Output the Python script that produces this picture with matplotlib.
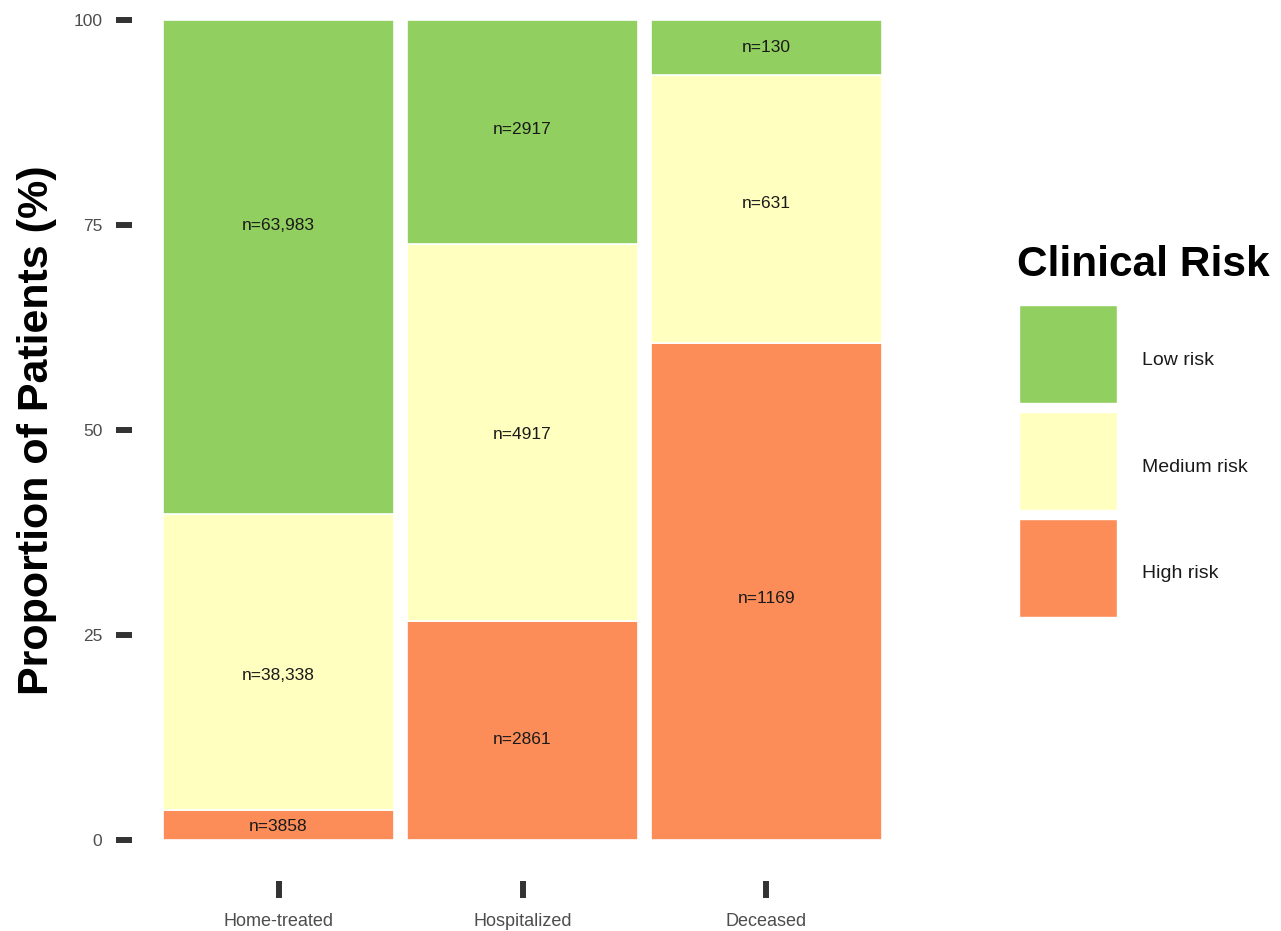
import numpy as np
import matplotlib
matplotlib.use('Agg')
from matplotlib import pyplot as plt
from matplotlib.patches import Patch, Rectangle
from matplotlib.legend_handler import HandlerPatch

plt.rcParams['font.family'] = ['Liberation Sans', 'DejaVu Sans']

# Data: patient counts per outcome and clinical risk group
outcomes = ['Home-treated', 'Hospitalized', 'Deceased']
risk_levels = ['High risk', 'Medium risk', 'Low risk']
high_risk = np.array([3858, 2861, 1169])
medium_risk = np.array([38338, 4917, 631])
low_risk = np.array([63983, 2917, 130])
risk_colors = ['#FC8D59', '#FFFFBF', '#91CF60']

# where the n= labels sit (percent)
label_y_high = [1.7, 12.2, 29.5]
label_y_medium = [20, 49.5, 77.6]
label_y_low = [75, 86.7, 96.6]

counts = [high_risk, medium_risk, low_risk]
label_ys = [label_y_high, label_y_medium, label_y_low]
totals = high_risk + medium_risk + low_risk


def fmt_n(v):
    return 'n={:,}'.format(v) if v >= 10000 else 'n={}'.format(v)


fig = plt.figure(figsize=(12.81, 9.31), dpi=100)
ax = fig.add_axes([132.1 / 1281, 1 - 840 / 931, 780.8 / 1281, 820 / 931])

x = np.arange(len(outcomes))
bottom = np.zeros(len(outcomes))
for level, cnt, ly, col in zip(risk_levels, counts, label_ys, risk_colors):
    pct = cnt / totals * 100
    ax.bar(x, pct, width=0.947, bottom=bottom, color=col, edgecolor='white',
           linewidth=1.2, label=level)
    for xi, yi, v in zip(x, ly, cnt):
        ax.text(xi, yi, fmt_n(v), ha='center', va='center',
                fontsize=12.5, color='#1A1A1A')
    bottom = bottom + pct

ax.set_xlim(-0.6, 2.6)
ax.set_ylim(0, 100)
ax.set_yticks([0, 25, 50, 75, 100])
ax.set_xticks(x)
ax.set_xticklabels(outcomes)

for s in ax.spines.values():
    s.set_visible(False)
ax.spines['bottom'].set_position(('outward', 29.5))

ax.tick_params(axis='y', length=11.5, width=4.3, color='#333333', pad=10,
               labelsize=12.5, labelcolor='#4D4D4D')
ax.tick_params(axis='x', length=12, width=4.3, color='#333333', pad=11,
               labelsize=13, labelcolor='#4D4D4D')

ax.set_ylabel('Proportion of Patients (%)', fontsize=31, fontweight='bold')
ax.yaxis.set_label_coords(-0.0963, 0.5)


# legend keys: square, nudged up so label text sits at mid-height
def key_patch(legend, orig_handle, xdescent, ydescent, width, height, fontsize):
    return Rectangle((-xdescent, -ydescent + 5.3), width, height)


fig.text(1017 / 1281, 1 - 265 / 931, 'Clinical Risk', fontsize=30.5,
         fontweight='bold', ha='left', va='center')

handles = [Patch(facecolor=c, edgecolor='white', linewidth=1) for c in risk_colors[::-1]]
leg = fig.legend(handles, risk_levels[::-1], loc='upper left',
                 bbox_to_anchor=(1019 / 1281, 1 - 312 / 931),
                 frameon=False, fontsize=14, borderpad=0, borderaxespad=0,
                 handlelength=5.04, handleheight=7.377, labelspacing=0.46,
                 handletextpad=1.29,
                 handler_map={Patch: HandlerPatch(patch_func=key_patch)})
for t in leg.get_texts():
    t.set_color('#1A1A1A')

fig.savefig('out.png', dpi=100, facecolor='white')
